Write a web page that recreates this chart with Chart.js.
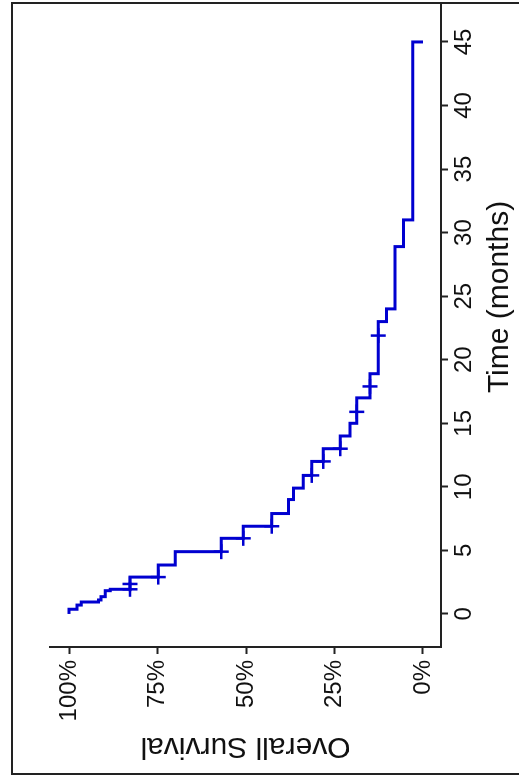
<!DOCTYPE html>
<html>
<head>
<meta charset="utf-8">
<title>Overall Survival</title>
<script src="https://cdn.jsdelivr.net/npm/chart.js@4.4.1/dist/chart.umd.min.js"></script>
<style>
    html, body { margin: 0; padding: 0; background: #fff; overflow: hidden; }
    body { width: 519px; height: 776px; position: relative; }
    /* outer frame, open on the right like the reference crop */
    #frame {
        position: absolute; left: 11px; top: 2px;
        width: 510px; height: 769px;
        border: 2px solid #222; border-right: none;
        overflow: hidden; background: #fff;
    }
    /* chart is drawn the normal way, then turned a quarter left */
    #rot {
        position: absolute; left: 0; top: 0;
        width: 839px; height: 519px;
        transform-origin: 0 0;
        transform: translate(-13px, 772px) rotate(-90deg);
    }
    #kmChart { display: block; width: 839px; height: 519px; }
</style>
</head>
<body>
<div id="frame">
    <div id="rot"><canvas id="kmChart" width="839" height="519"></canvas></div>
</div>
<script>
    // Kaplan-Meier steps: time (months) and survival (%) after the drop
    const eventTimes = [0, 0.37, 0.7, 0.94, 1.1, 1.36, 1.83, 1.94, 2.9, 3.85, 4.9, 5.95, 6.9, 7.9, 9.0, 9.9, 10.9, 12.0, 13.0, 14.0, 15.0, 17.0, 18.9, 23.0, 24.0, 28.9, 31.0, 45.0];
    const survival = [100, 97.8, 96.6, 91.7, 91.0, 89.8, 88.4, 82.8, 74.8, 70.0, 57.0, 50.8, 42.7, 38.0, 36.6, 33.8, 31.4, 28.2, 23.4, 20.6, 18.7, 15.0, 12.6, 10.3, 7.9, 5.5, 2.9, 0];

    // censored observations (+)
    const censorTimes = [1.94, 2.36, 2.9, 4.9, 5.95, 6.9, 10.9, 12.0, 13.0, 15.9, 17.9, 21.9];
    const censorSurv = [82.8, 82.8, 74.8, 57.0, 50.8, 42.7, 31.4, 28.2, 23.4, 18.7, 15.0, 12.6];

    // axis ticks
    const timeTicks = [0, 5, 10, 15, 20, 25, 30, 35, 40, 45];
    const survTicks = [0, 25, 50, 75, 100];

    const blue = '#0000d0';
    const axisColor = '#222';
    const fontFamily = '"Liberation Sans", Arial, sans-serif';

    const ctx = document.getElementById('kmChart').getContext('2d');
    new Chart(ctx, {
        type: 'line',
        data: {
            datasets: [
                {
                    label: 'Overall Survival',
                    data: eventTimes.map((t, i) => ({ x: t, y: survival[i] })),
                    stepped: true,
                    borderColor: blue,
                    borderWidth: 3,
                    borderCapStyle: 'butt',
                    borderJoinStyle: 'miter',
                    pointRadius: 0,
                    fill: false
                },
                {
                    label: 'Censored',
                    data: censorTimes.map((t, i) => ({ x: t, y: censorSurv[i] })),
                    showLine: false,
                    pointStyle: 'cross',
                    pointRadius: 7.5,
                    pointBorderWidth: 2.5,
                    borderColor: blue,
                    backgroundColor: blue
                }
            ]
        },
        options: {
            responsive: false,
            devicePixelRatio: 1,
            animation: false,
            layout: { padding: { top: 50, right: 1, bottom: 0, left: 0 } },
            plugins: {
                legend: { display: false },
                tooltip: { enabled: false }
            },
            scales: {
                x: {
                    type: 'linear',
                    position: 'bottom',
                    min: -2.6,
                    max: 52.47,
                    afterBuildTicks: (scale) => { scale.ticks = timeTicks.map(v => ({ value: v })); },
                    afterFit: (scale) => { scale.height = 78; },
                    border: { display: true, color: axisColor, width: 2 },
                    grid: { display: true, drawOnChartArea: false, drawTicks: true, tickLength: 7, tickWidth: 2, tickColor: axisColor },
                    ticks: {
                        autoSkip: false,
                        maxRotation: 0,
                        padding: 2,
                        color: '#111',
                        font: { family: fontFamily, size: 24, lineHeight: 1.2 }
                    },
                    title: {
                        display: true,
                        text: 'Time (months)',
                        color: '#111',
                        padding: { top: 0, bottom: 1 },
                        font: { family: fontFamily, size: 30, lineHeight: 1.2 }
                    }
                },
                y: {
                    min: -5.1,
                    max: 105.4,
                    afterBuildTicks: (scale) => { scale.ticks = survTicks.map(v => ({ value: v })); },
                    afterFit: (scale) => { scale.width = 129; },
                    border: { display: true, color: axisColor, width: 2 },
                    grid: { display: true, drawOnChartArea: false, drawTicks: true, tickLength: 7, tickWidth: 2, tickColor: axisColor },
                    ticks: {
                        autoSkip: false,
                        padding: 6,
                        color: '#111',
                        font: { family: fontFamily, size: 24, lineHeight: 1.2 },
                        callback: (v) => v + '%'
                    },
                    title: {
                        display: true,
                        text: 'Overall Survival',
                        color: '#111',
                        padding: { top: 12, bottom: 0 },
                        font: { family: fontFamily, size: 30, lineHeight: 1.2 }
                    }
                }
            }
        }
    });
</script>
</body>
</html>
